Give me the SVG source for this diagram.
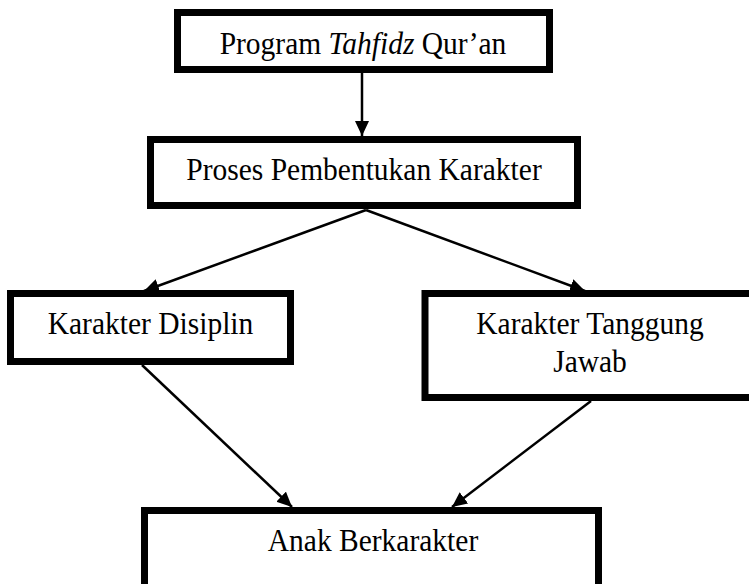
<svg xmlns="http://www.w3.org/2000/svg" width="749" height="584" viewBox="0 0 749 584">
<style>
.box{fill:#fff;stroke:#000;stroke-width:7}
.lbl{font-family:"Liberation Serif","Times New Roman",serif;font-size:29.5px;fill:#000;text-anchor:middle}
.con{stroke:#000;stroke-width:2.5;fill:none;marker-end:url(#ah)}
</style>
<defs>
<marker id="ah" markerUnits="userSpaceOnUse" markerWidth="16" markerHeight="15" refX="15" refY="7" orient="auto">
<path d="M0,0 L15,7 L0,14 z" fill="#000"/>
</marker>
</defs>
<rect width="749" height="584" fill="#fff"/>
<g id="connectors">
<line class="con" x1="362" y1="73" x2="362" y2="136"/>
<line class="con" x1="366" y1="210" x2="144" y2="291"/>
<line class="con" x1="366" y1="210" x2="585" y2="291"/>
<line class="con" x1="142" y1="365" x2="292" y2="507"/>
<line class="con" x1="591" y1="401" x2="452" y2="507"/>
</g>
<g id="n1">
<rect class="box" x="177.5" y="12.5" width="372" height="57"/>
<text class="lbl" transform="translate(363,54) scale(1,1.1)">Program <tspan font-style="italic">Tahfidz</tspan> Qur’an</text>
</g>
<g id="n2">
<rect class="box" x="150.5" y="139.5" width="427" height="66"/>
<text class="lbl" transform="translate(364,180) scale(1,1.1)">Proses Pembentukan Karakter</text>
</g>
<g id="n3">
<rect class="box" x="10.5" y="293.5" width="280" height="68"/>
<text class="lbl" transform="translate(150.5,334) scale(1,1.1)">Karakter Disiplin</text>
</g>
<g id="n4">
<rect class="box" x="425" y="293.5" width="340" height="104"/>
<text class="lbl" transform="translate(590,334) scale(1,1.1)">Karakter Tanggung</text>
<text class="lbl" transform="translate(590,372) scale(1,1.1)">Jawab</text>
</g>
<g id="n5">
<rect class="box" x="144.5" y="510.5" width="454" height="90"/>
<text class="lbl" transform="translate(373,551) scale(1,1.1)">Anak Berkarakter</text>
</g>
</svg>
